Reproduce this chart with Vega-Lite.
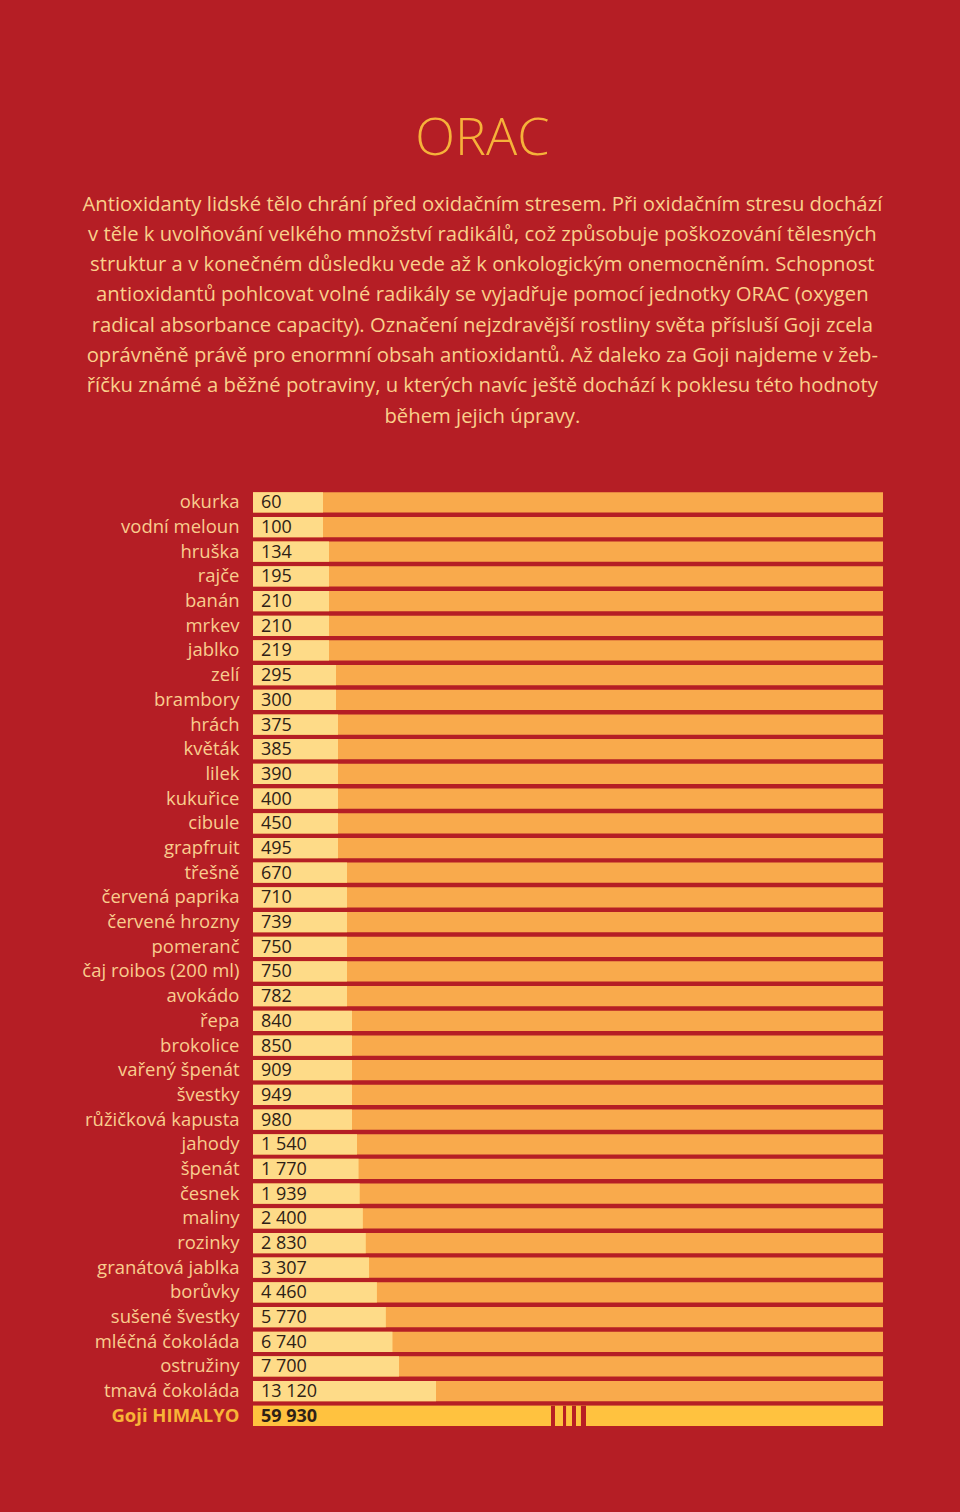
{
  "$schema": "https://vega.github.io/schema/vega-lite/v6.json",
  "autosize": {"type": "pad"},
  "padding": {"left": 81, "right": 78, "top": 112, "bottom": 84},
  "background": "#B51E25",
  "config": {
    "locale": {"number": {"decimal": ",", "thousands": " ", "grouping": [3], "currency": ["", " Kč"]}},
    "view": {"stroke": null},
    "font": "Open Sans"
  },
  "title": {
    "text": "ORAC",
    "subtitle": [
      "Antioxidanty lidské tělo chrání před oxidačním stresem. Při oxidačním stresu dochází",
      "v těle k uvolňování velkého množství radikálů, což způsobuje poškozování tělesných",
      "struktur a v konečném důsledku vede až k onkologickým onemocněním. Schopnost",
      "antioxidantů pohlcovat volné radikály se vyjadřuje pomocí jednotky ORAC (oxygen",
      "radical absorbance capacity). Označení nejzdravější rostliny světa přísluší Goji zcela",
      "oprávněně právě pro enormní obsah antioxidantů. Až daleko za Goji najdeme v žeb-",
      "říčku známé a běžné potraviny, u kterých navíc ještě dochází k poklesu této hodnoty",
      "během jejich úpravy."
    ],
    "anchor": "middle",
    "frame": "bounds",
    "font": "Open Sans",
    "fontSize": 52,
    "fontWeight": 300,
    "color": "#F6B23A",
    "subtitleFont": "Open Sans",
    "subtitleFontSize": 20.3,
    "subtitleColor": "#FAD08B",
    "subtitleLineHeight": 30.3,
    "subtitlePadding": 29,
    "offset": 62
  },
  "data": {"values": [
    {"food": "okurka", "orac": 60},
    {"food": "vodní meloun", "orac": 100},
    {"food": "hruška", "orac": 134},
    {"food": "rajče", "orac": 195},
    {"food": "banán", "orac": 210},
    {"food": "mrkev", "orac": 210},
    {"food": "jablko", "orac": 219},
    {"food": "zelí", "orac": 295},
    {"food": "brambory", "orac": 300},
    {"food": "hrách", "orac": 375},
    {"food": "květák", "orac": 385},
    {"food": "lilek", "orac": 390},
    {"food": "kukuřice", "orac": 400},
    {"food": "cibule", "orac": 450},
    {"food": "grapfruit", "orac": 495},
    {"food": "třešně", "orac": 670},
    {"food": "červená paprika", "orac": 710},
    {"food": "červené hrozny", "orac": 739},
    {"food": "pomeranč", "orac": 750},
    {"food": "čaj roibos (200 ml)", "orac": 750},
    {"food": "avokádo", "orac": 782},
    {"food": "řepa", "orac": 840},
    {"food": "brokolice", "orac": 850},
    {"food": "vařený špenát", "orac": 909},
    {"food": "švestky", "orac": 949},
    {"food": "růžičková kapusta", "orac": 980},
    {"food": "jahody", "orac": 1540},
    {"food": "špenát", "orac": 1770},
    {"food": "česnek", "orac": 1939},
    {"food": "maliny", "orac": 2400},
    {"food": "rozinky", "orac": 2830},
    {"food": "granátová jablka", "orac": 3307},
    {"food": "borůvky", "orac": 4460},
    {"food": "sušené švestky", "orac": 5770},
    {"food": "mléčná čokoláda", "orac": 6740},
    {"food": "ostružiny", "orac": 7700},
    {"food": "tmavá čokoláda", "orac": 13120},
    {"food": "Goji HIMALYO", "orac": 59930}
  ]},
  "width": 630,
  "height": {"step": 24.69},
  "encoding": {
    "y": {
      "field": "food", "type": "nominal", "sort": null,
      "scale": {"paddingInner": 0.18, "paddingOuter": 0.09},
      "axis": {
        "title": null, "domain": false, "ticks": false, "labelPadding": 14,
        "labelFont": "Open Sans", "labelFontSize": 18.5,
        "labelColor": {"condition": {"test": "datum.value === 'Goji HIMALYO'", "value": "#F8B437"}, "value": "#F9CD8E"},
        "labelFontWeight": {"condition": {"test": "datum.value === 'Goji HIMALYO'", "value": "bold"}, "value": "normal"}
      }
    }
  },
  "layer": [
    {
      "mark": {"type": "bar", "color": "#F9AA4C"},
      "encoding": {
        "x": {"datum": 59930, "type": "quantitative",
          "scale": {
            "domain": [0, 60, 100, 134, 219, 295, 300, 375, 495, 670, 782, 840, 980, 1540, 13120, 59930],
            "range": [0, 70, 70, 76, 76, 83, 83, 85, 85, 94, 94, 99, 99, 104, 183, 630],
            "zero": false, "nice": false
          },
          "axis": null}
      }
    },
    {
      "mark": {"type": "bar", "color": "#FEDB88"},
      "encoding": {
        "x": {"field": "orac", "type": "quantitative"},
        "color": {"condition": {"test": "datum.food === 'Goji HIMALYO'", "value": "#FFC23F"}, "value": "#FEDB88"}
      }
    },
    {
      "data": {"values": [
        {"from": 25160, "to": 25580},
        {"from": 26420, "to": 26740},
        {"from": 27360, "to": 27780},
        {"from": 28300, "to": 28830}
      ]},
      "mark": {"type": "rect", "color": "#B81E24"},
      "encoding": {
        "x": {"field": "from", "type": "quantitative"},
        "x2": {"field": "to"},
        "y": {"datum": "Goji HIMALYO"}
      }
    },
    {
      "transform": [{"filter": "datum.food !== 'Goji HIMALYO'"}],
      "mark": {"type": "text", "align": "left", "baseline": "middle", "dx": 8, "dy": 1, "font": "Open Sans", "fontSize": 18, "color": "#2E2116"},
      "encoding": {
        "x": {"datum": 0, "type": "quantitative"},
        "text": {"field": "orac", "type": "quantitative", "format": ",d"}
      }
    },
    {
      "transform": [{"filter": "datum.food === 'Goji HIMALYO'"}],
      "mark": {"type": "text", "align": "left", "baseline": "middle", "dx": 8, "dy": 1, "font": "Open Sans", "fontSize": 18, "fontWeight": "bold", "color": "#2E2116"},
      "encoding": {
        "x": {"datum": 0, "type": "quantitative"},
        "text": {"field": "orac", "type": "quantitative", "format": ",d"}
      }
    }
  ]
}
